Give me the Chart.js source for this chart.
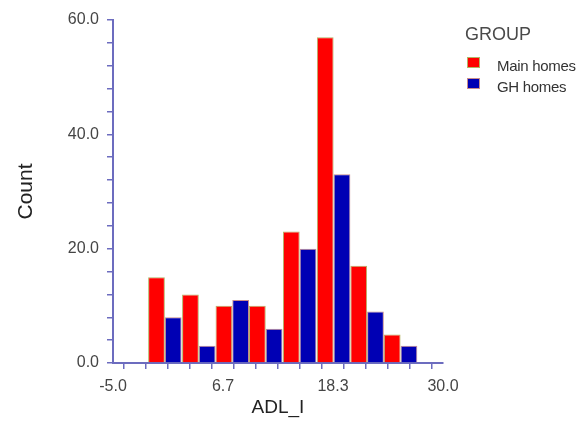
<!DOCTYPE html>
<html>
<head>
<meta charset="utf-8">
<title>ADL_I by group</title>
<script src="https://cdn.jsdelivr.net/npm/chart.js@4"></script>
<style>
  html, body { margin: 0; padding: 0; background: #fff; }
  #wrap { position: relative; width: 583px; height: 425px; }
  #legend { position: absolute; left: 0; top: 0; font-family: 'Liberation Sans', Arial, sans-serif; }
  #legend .title { position: absolute; left: 465px; top: 24px; font-size: 18px; line-height: 20px; color: #4a4a4a; white-space: nowrap; }
  #legend .box { position: absolute; left: 467px; width: 11px; height: 9px; border: 1px solid; }
  #legend .name { position: absolute; left: 497px; font-size: 15px; line-height: 16px; color: #333; white-space: nowrap; letter-spacing: -0.3px; }
</style>
</head>
<body>
<div id="wrap">
  <canvas id="histChart" width="583" height="425"></canvas>
  <div id="legend"><div class="title">GROUP</div></div>
</div>
<script>
// histogram bins (centre of each ADL_I bin) and counts per group
const binCenters = [0.5, 4.1, 7.65, 11.2, 14.8, 18.4, 21.95, 25.5];
const mainHomes = [15, 12, 10, 10, 23, 57, 17, 5];
const ghHomes = [8, 3, 11, 6, 20, 33, 9, 3];
const seriesNames = ['Main homes', 'GH homes'];

const xTickLabels = ['-5.0', '6.7', '18.3', '30.0'];
const yTickLabels = ['0.0', '20.0', '40.0', '60.0'];

const AXIS = '#6c6cbf';
const TEXT = '#454545';
const FONT = "'Liberation Sans', Arial, sans-serif";

const xMin = -5, xMax = 30, xSteps = 15;
const yMin = 0, yMax = 60, yStep = 4;

const colors = [
    { fill: '#ff0000', edge: '#b4b466' },
    { fill: '#0000b4', edge: '#c88c8c' }
];

// the bar controller sizes bars from the smallest gap it finds, which is
// the minor tick step here, so widen the category to one full bin
const binWidth = Math.min(...binCenters.slice(1).map((c, i) => c - binCenters[i]));
const tickStep = (xMax - xMin) / xSteps;

function points(values) {
    return values.map((v, i) => ({ x: binCenters[i], y: v }));
}

const ctx = document.getElementById('histChart').getContext('2d');

new Chart(ctx, {
    type: 'bar',
    data: {
        datasets: [
            {
                label: seriesNames[0],
                data: points(mainHomes),
                backgroundColor: colors[0].fill,
                borderColor: colors[0].edge,
                borderWidth: 1
            },
            {
                label: seriesNames[1],
                data: points(ghHomes),
                backgroundColor: colors[1].fill,
                borderColor: colors[1].edge,
                borderWidth: 1
            }
        ]
    },
    options: {
        responsive: false,
        animation: false,
        layout: { padding: { top: 20, right: 140, bottom: 0, left: 0 } },
        datasets: {
            bar: { barPercentage: 1, categoryPercentage: binWidth / tickStep }
        },
        scales: {
            x: {
                type: 'linear',
                min: xMin,
                max: xMax,
                offset: false,
                afterBuildTicks: (s) => {
                    const ticks = [];
                    for (let i = 0; i <= xSteps; i++) {
                        ticks.push({ value: xMin + i * tickStep });
                    }
                    s.ticks = ticks;
                },
                afterFit: (s) => { s.height = 62; },
                ticks: {
                    autoSkip: false,
                    maxRotation: 0,
                    padding: 8,
                    color: TEXT,
                    font: { family: FONT, size: 16 },
                    callback: (v, i) => (i % 5 === 0 ? xTickLabels[i / 5] : '')
                },
                grid: {
                    drawOnChartArea: false,
                    drawTicks: true,
                    tickLength: 6,
                    color: AXIS,
                    lineWidth: 1.5
                },
                border: { display: true, color: AXIS, width: 2 },
                title: {
                    display: true,
                    text: 'ADL_I',
                    color: '#222',
                    font: { family: FONT, size: 19 },
                    padding: { top: 0, bottom: 6 }
                }
            },
            y: {
                min: yMin,
                max: yMax,
                afterFit: (s) => { s.width = 113; },
                ticks: {
                    stepSize: yStep,
                    padding: 8,
                    color: TEXT,
                    font: { family: FONT, size: 16 },
                    callback: (v) => (v % 20 === 0 ? yTickLabels[v / 20] : '')
                },
                grid: {
                    drawOnChartArea: false,
                    drawTicks: true,
                    tickLength: 6,
                    color: AXIS,
                    lineWidth: 1.5
                },
                border: { display: true, color: AXIS, width: 2 },
                title: {
                    display: true,
                    text: 'Count',
                    color: '#222',
                    font: { family: FONT, size: 21 },
                    padding: { top: 14, bottom: 0 }
                }
            }
        },
        plugins: {
            tooltip: { enabled: false },
            legend: { display: false }
        }
    }
});

// legend beside the plot
const legend = document.getElementById('legend');
seriesNames.forEach((name, i) => {
    const top = 57 + i * 21;
    const box = document.createElement('div');
    box.className = 'box';
    box.style.top = top + 'px';
    box.style.background = colors[i].fill;
    box.style.borderColor = colors[i].edge;
    legend.appendChild(box);

    const label = document.createElement('div');
    label.className = 'name';
    label.style.top = (top + 1) + 'px';
    label.textContent = name;
    legend.appendChild(label);
});
</script>
</body>
</html>
